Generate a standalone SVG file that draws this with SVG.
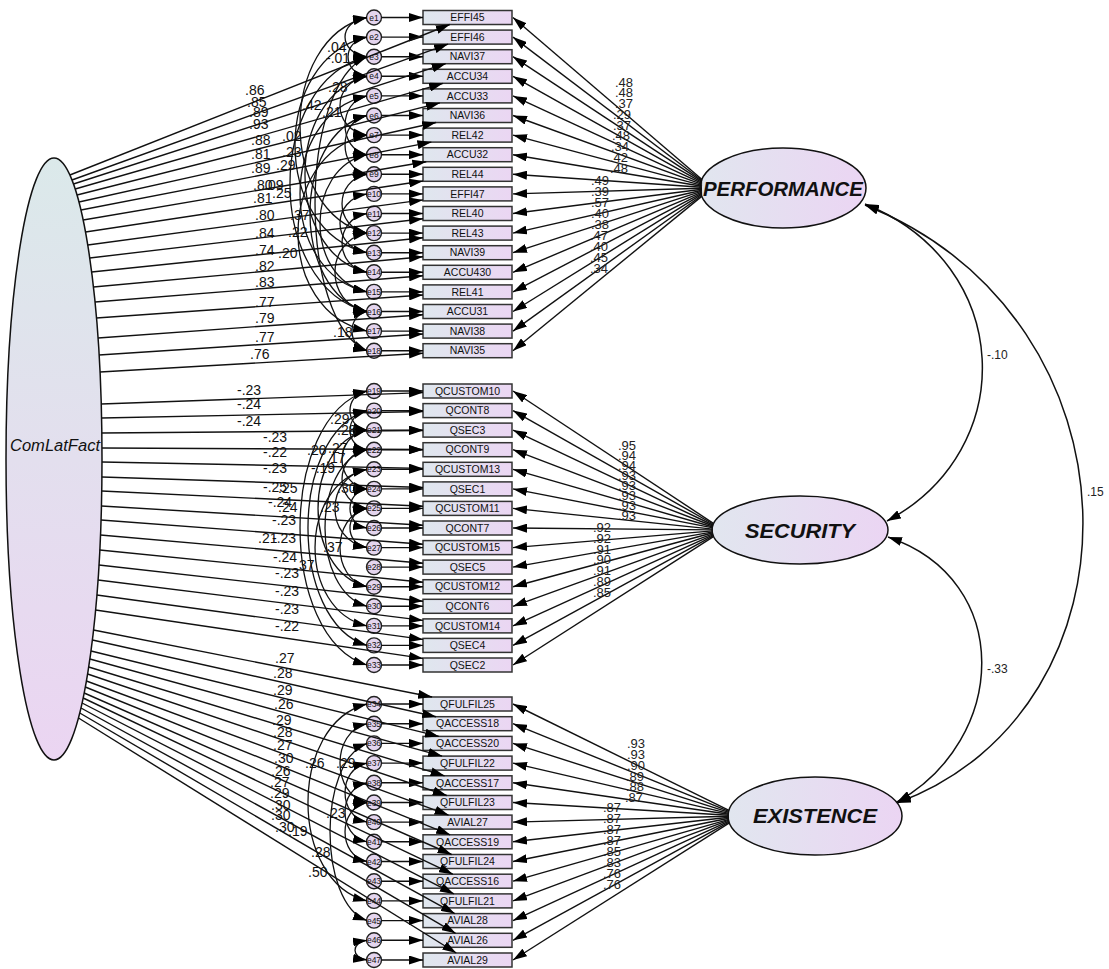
<svg xmlns="http://www.w3.org/2000/svg" width="1109" height="969" viewBox="0 0 1109 969">
<defs>
<linearGradient id="gb" x1="0" y1="0" x2="1" y2="0"><stop offset="0" stop-color="#dfe7ee"/><stop offset="1" stop-color="#ebd6f3"/></linearGradient>
<linearGradient id="gv" x1="0" y1="0" x2="0" y2="1"><stop offset="0" stop-color="#dbe9ea"/><stop offset="1" stop-color="#ebd5f2"/></linearGradient>
<linearGradient id="gh" x1="0" y1="0" x2="1" y2="0"><stop offset="0" stop-color="#e1e6ef"/><stop offset="1" stop-color="#ebd5f3"/></linearGradient>
<marker id="ah" viewBox="0 0 14 9" refX="14" refY="4.5" markerWidth="14" markerHeight="9" markerUnits="userSpaceOnUse" orient="auto-start-reverse"><path d="M0,0L14,4.5L0,9z" fill="#000"/></marker>
<style>
.ln{stroke:#111;stroke-width:1.4;fill:none;marker-end:url(#ah)}
.cv{stroke:#111;stroke-width:1.3;fill:none;marker-start:url(#ah);marker-end:url(#ah)}
.bx{fill:url(#gb);stroke:#333;stroke-width:1.5}
.bt{font-family:"Liberation Sans",Arial,sans-serif;font-size:10.5px;text-anchor:middle;fill:#111}
.ec{fill:#e4d5ee;stroke:#222;stroke-width:1.4}
.et{font-family:"Liberation Sans",Arial,sans-serif;font-size:8.5px;text-anchor:middle;fill:#111}
.lv{stroke:#111;stroke-width:1.5}
.lt{font-family:"Liberation Sans",Arial,sans-serif;font-weight:bold;font-style:italic;font-size:20px;text-anchor:middle;fill:#111}
.l14{font-family:"Liberation Sans",Arial,sans-serif;font-size:14px;fill:#111}
.l13{font-family:"Liberation Sans",Arial,sans-serif;font-size:13px;fill:#222}
.l12{font-family:"Liberation Sans",Arial,sans-serif;font-size:12px;fill:#222}
</style>
</defs>
<rect width="1109" height="969" fill="#fff"/>

<!-- latent nodes -->
<g id="ComLatFact"><ellipse cx="54" cy="459" rx="48" ry="301" fill="url(#gv)" class="lv"/><text x="10" y="451" font-family="Liberation Sans, Arial, sans-serif" font-style="italic" font-size="16" textLength="90" lengthAdjust="spacingAndGlyphs" fill="#111">ComLatFact</text></g>
<g id="PERFORMANCE"><ellipse cx="783" cy="188" rx="83" ry="40" fill="url(#gh)" class="lv"/><text class="lt" x="783" y="196" textLength="160" lengthAdjust="spacingAndGlyphs">PERFORMANCE</text></g>
<g id="SECURITY"><ellipse cx="800" cy="530" rx="88" ry="34" fill="url(#gh)" class="lv"/><text class="lt" x="800" y="537.5" textLength="110" lengthAdjust="spacingAndGlyphs">SECURITY</text></g>
<g id="EXISTENCE"><ellipse cx="815" cy="816" rx="87" ry="39" fill="url(#gh)" class="lv"/><text class="lt" x="815" y="823" textLength="124" lengthAdjust="spacingAndGlyphs">EXISTENCE</text></g>

<!-- observed boxes -->
<g id="EFFI45" transform="translate(0,17.5)"><rect class="bx" x="423" y="-7" width="89" height="14"/><text class="bt" x="467.5" y="3.7">EFFI45</text></g>
<g id="EFFI46" transform="translate(0,37.1)"><rect class="bx" x="423" y="-7" width="89" height="14"/><text class="bt" x="467.5" y="3.7">EFFI46</text></g>
<g id="NAVI37" transform="translate(0,56.7)"><rect class="bx" x="423" y="-7" width="89" height="14"/><text class="bt" x="467.5" y="3.7">NAVI37</text></g>
<g id="ACCU34" transform="translate(0,76.3)"><rect class="bx" x="423" y="-7" width="89" height="14"/><text class="bt" x="467.5" y="3.7">ACCU34</text></g>
<g id="ACCU33" transform="translate(0,95.9)"><rect class="bx" x="423" y="-7" width="89" height="14"/><text class="bt" x="467.5" y="3.7">ACCU33</text></g>
<g id="NAVI36" transform="translate(0,115.5)"><rect class="bx" x="423" y="-7" width="89" height="14"/><text class="bt" x="467.5" y="3.7">NAVI36</text></g>
<g id="REL42" transform="translate(0,135.1)"><rect class="bx" x="423" y="-7" width="89" height="14"/><text class="bt" x="467.5" y="3.7">REL42</text></g>
<g id="ACCU32" transform="translate(0,154.7)"><rect class="bx" x="423" y="-7" width="89" height="14"/><text class="bt" x="467.5" y="3.7">ACCU32</text></g>
<g id="REL44" transform="translate(0,174.3)"><rect class="bx" x="423" y="-7" width="89" height="14"/><text class="bt" x="467.5" y="3.7">REL44</text></g>
<g id="EFFI47" transform="translate(0,193.9)"><rect class="bx" x="423" y="-7" width="89" height="14"/><text class="bt" x="467.5" y="3.7">EFFI47</text></g>
<g id="REL40" transform="translate(0,213.5)"><rect class="bx" x="423" y="-7" width="89" height="14"/><text class="bt" x="467.5" y="3.7">REL40</text></g>
<g id="REL43" transform="translate(0,233.1)"><rect class="bx" x="423" y="-7" width="89" height="14"/><text class="bt" x="467.5" y="3.7">REL43</text></g>
<g id="NAVI39" transform="translate(0,252.7)"><rect class="bx" x="423" y="-7" width="89" height="14"/><text class="bt" x="467.5" y="3.7">NAVI39</text></g>
<g id="ACCU430" transform="translate(0,272.3)"><rect class="bx" x="423" y="-7" width="89" height="14"/><text class="bt" x="467.5" y="3.7">ACCU430</text></g>
<g id="REL41" transform="translate(0,291.9)"><rect class="bx" x="423" y="-7" width="89" height="14"/><text class="bt" x="467.5" y="3.7">REL41</text></g>
<g id="ACCU31" transform="translate(0,311.5)"><rect class="bx" x="423" y="-7" width="89" height="14"/><text class="bt" x="467.5" y="3.7">ACCU31</text></g>
<g id="NAVI38" transform="translate(0,331.1)"><rect class="bx" x="423" y="-7" width="89" height="14"/><text class="bt" x="467.5" y="3.7">NAVI38</text></g>
<g id="NAVI35" transform="translate(0,350.7)"><rect class="bx" x="423" y="-7" width="89" height="14"/><text class="bt" x="467.5" y="3.7">NAVI35</text></g>

<g id="QCUSTOM10" transform="translate(0,391)"><rect class="bx" x="423" y="-7" width="89" height="14"/><text class="bt" x="467.5" y="3.7">QCUSTOM10</text></g>
<g id="QCONT8" transform="translate(0,410.6)"><rect class="bx" x="423" y="-7" width="89" height="14"/><text class="bt" x="467.5" y="3.7">QCONT8</text></g>
<g id="QSEC3" transform="translate(0,430.1)"><rect class="bx" x="423" y="-7" width="89" height="14"/><text class="bt" x="467.5" y="3.7">QSEC3</text></g>
<g id="QCONT9" transform="translate(0,449.7)"><rect class="bx" x="423" y="-7" width="89" height="14"/><text class="bt" x="467.5" y="3.7">QCONT9</text></g>
<g id="QCUSTOM13" transform="translate(0,469.3)"><rect class="bx" x="423" y="-7" width="89" height="14"/><text class="bt" x="467.5" y="3.7">QCUSTOM13</text></g>
<g id="QSEC1" transform="translate(0,488.9)"><rect class="bx" x="423" y="-7" width="89" height="14"/><text class="bt" x="467.5" y="3.7">QSEC1</text></g>
<g id="QCUSTOM11" transform="translate(0,508.4)"><rect class="bx" x="423" y="-7" width="89" height="14"/><text class="bt" x="467.5" y="3.7">QCUSTOM11</text></g>
<g id="QCONT7" transform="translate(0,528)"><rect class="bx" x="423" y="-7" width="89" height="14"/><text class="bt" x="467.5" y="3.7">QCONT7</text></g>
<g id="QCUSTOM15" transform="translate(0,547.6)"><rect class="bx" x="423" y="-7" width="89" height="14"/><text class="bt" x="467.5" y="3.7">QCUSTOM15</text></g>
<g id="QSEC5" transform="translate(0,567.1)"><rect class="bx" x="423" y="-7" width="89" height="14"/><text class="bt" x="467.5" y="3.7">QSEC5</text></g>
<g id="QCUSTOM12" transform="translate(0,586.7)"><rect class="bx" x="423" y="-7" width="89" height="14"/><text class="bt" x="467.5" y="3.7">QCUSTOM12</text></g>
<g id="QCONT6" transform="translate(0,606.3)"><rect class="bx" x="423" y="-7" width="89" height="14"/><text class="bt" x="467.5" y="3.7">QCONT6</text></g>
<g id="QCUSTOM14" transform="translate(0,625.9)"><rect class="bx" x="423" y="-7" width="89" height="14"/><text class="bt" x="467.5" y="3.7">QCUSTOM14</text></g>
<g id="QSEC4" transform="translate(0,645.4)"><rect class="bx" x="423" y="-7" width="89" height="14"/><text class="bt" x="467.5" y="3.7">QSEC4</text></g>
<g id="QSEC2" transform="translate(0,665)"><rect class="bx" x="423" y="-7" width="89" height="14"/><text class="bt" x="467.5" y="3.7">QSEC2</text></g>

<g id="QFULFIL25" transform="translate(0,704)"><rect class="bx" x="423" y="-7" width="89" height="14"/><text class="bt" x="467.5" y="3.7">QFULFIL25</text></g>
<g id="QACCESS18" transform="translate(0,723.7)"><rect class="bx" x="423" y="-7" width="89" height="14"/><text class="bt" x="467.5" y="3.7">QACCESS18</text></g>
<g id="QACCESS20" transform="translate(0,743.4)"><rect class="bx" x="423" y="-7" width="89" height="14"/><text class="bt" x="467.5" y="3.7">QACCESS20</text></g>
<g id="QFULFIL22" transform="translate(0,763.1)"><rect class="bx" x="423" y="-7" width="89" height="14"/><text class="bt" x="467.5" y="3.7">QFULFIL22</text></g>
<g id="QACCESS17" transform="translate(0,782.8)"><rect class="bx" x="423" y="-7" width="89" height="14"/><text class="bt" x="467.5" y="3.7">QACCESS17</text></g>
<g id="QFULFIL23" transform="translate(0,802.5)"><rect class="bx" x="423" y="-7" width="89" height="14"/><text class="bt" x="467.5" y="3.7">QFULFIL23</text></g>
<g id="AVIAL27" transform="translate(0,822.1)"><rect class="bx" x="423" y="-7" width="89" height="14"/><text class="bt" x="467.5" y="3.7">AVIAL27</text></g>
<g id="QACCESS19" transform="translate(0,841.8)"><rect class="bx" x="423" y="-7" width="89" height="14"/><text class="bt" x="467.5" y="3.7">QACCESS19</text></g>
<g id="QFULFIL24" transform="translate(0,861.5)"><rect class="bx" x="423" y="-7" width="89" height="14"/><text class="bt" x="467.5" y="3.7">QFULFIL24</text></g>
<g id="QACCESS16" transform="translate(0,881.2)"><rect class="bx" x="423" y="-7" width="89" height="14"/><text class="bt" x="467.5" y="3.7">QACCESS16</text></g>
<g id="QFULFIL21" transform="translate(0,900.9)"><rect class="bx" x="423" y="-7" width="89" height="14"/><text class="bt" x="467.5" y="3.7">QFULFIL21</text></g>
<g id="AVIAL28" transform="translate(0,920.6)"><rect class="bx" x="423" y="-7" width="89" height="14"/><text class="bt" x="467.5" y="3.7">AVIAL28</text></g>
<g id="AVIAL26" transform="translate(0,940.3)"><rect class="bx" x="423" y="-7" width="89" height="14"/><text class="bt" x="467.5" y="3.7">AVIAL26</text></g>
<g id="AVIAL29" transform="translate(0,960)"><rect class="bx" x="423" y="-7" width="89" height="14"/><text class="bt" x="467.5" y="3.7">AVIAL29</text></g>

<!-- error terms -->
<g id="e1" transform="translate(374,17.5)"><circle class="ec" r="7.5"/><text class="et" y="3">e1</text></g>
<g id="e2" transform="translate(374,37.1)"><circle class="ec" r="7.5"/><text class="et" y="3">e2</text></g>
<g id="e3" transform="translate(374,56.7)"><circle class="ec" r="7.5"/><text class="et" y="3">e3</text></g>
<g id="e4" transform="translate(374,76.3)"><circle class="ec" r="7.5"/><text class="et" y="3">e4</text></g>
<g id="e5" transform="translate(374,95.9)"><circle class="ec" r="7.5"/><text class="et" y="3">e5</text></g>
<g id="e6" transform="translate(374,115.5)"><circle class="ec" r="7.5"/><text class="et" y="3">e6</text></g>
<g id="e7" transform="translate(374,135.1)"><circle class="ec" r="7.5"/><text class="et" y="3">e7</text></g>
<g id="e8" transform="translate(374,154.7)"><circle class="ec" r="7.5"/><text class="et" y="3">e8</text></g>
<g id="e9" transform="translate(374,174.3)"><circle class="ec" r="7.5"/><text class="et" y="3">e9</text></g>
<g id="e10" transform="translate(374,193.9)"><circle class="ec" r="7.5"/><text class="et" y="3">e10</text></g>
<g id="e11" transform="translate(374,213.5)"><circle class="ec" r="7.5"/><text class="et" y="3">e11</text></g>
<g id="e12" transform="translate(374,233.1)"><circle class="ec" r="7.5"/><text class="et" y="3">e12</text></g>
<g id="e13" transform="translate(374,252.7)"><circle class="ec" r="7.5"/><text class="et" y="3">e13</text></g>
<g id="e14" transform="translate(374,272.3)"><circle class="ec" r="7.5"/><text class="et" y="3">e14</text></g>
<g id="e15" transform="translate(374,291.9)"><circle class="ec" r="7.5"/><text class="et" y="3">e15</text></g>
<g id="e16" transform="translate(374,311.5)"><circle class="ec" r="7.5"/><text class="et" y="3">e16</text></g>
<g id="e17" transform="translate(374,331.1)"><circle class="ec" r="7.5"/><text class="et" y="3">e17</text></g>
<g id="e18" transform="translate(374,350.7)"><circle class="ec" r="7.5"/><text class="et" y="3">e18</text></g>
<g id="e19" transform="translate(374,391)"><circle class="ec" r="7.5"/><text class="et" y="3">e19</text></g>
<g id="e20" transform="translate(374,410.6)"><circle class="ec" r="7.5"/><text class="et" y="3">e20</text></g>
<g id="e21" transform="translate(374,430.1)"><circle class="ec" r="7.5"/><text class="et" y="3">e21</text></g>
<g id="e22" transform="translate(374,449.7)"><circle class="ec" r="7.5"/><text class="et" y="3">e22</text></g>
<g id="e23" transform="translate(374,469.3)"><circle class="ec" r="7.5"/><text class="et" y="3">e23</text></g>
<g id="e24" transform="translate(374,488.9)"><circle class="ec" r="7.5"/><text class="et" y="3">e24</text></g>
<g id="e25" transform="translate(374,508.4)"><circle class="ec" r="7.5"/><text class="et" y="3">e25</text></g>
<g id="e26" transform="translate(374,528)"><circle class="ec" r="7.5"/><text class="et" y="3">e26</text></g>
<g id="e27" transform="translate(374,547.6)"><circle class="ec" r="7.5"/><text class="et" y="3">e27</text></g>
<g id="e28" transform="translate(374,567.1)"><circle class="ec" r="7.5"/><text class="et" y="3">e28</text></g>
<g id="e29" transform="translate(374,586.7)"><circle class="ec" r="7.5"/><text class="et" y="3">e29</text></g>
<g id="e30" transform="translate(374,606.3)"><circle class="ec" r="7.5"/><text class="et" y="3">e30</text></g>
<g id="e31" transform="translate(374,625.9)"><circle class="ec" r="7.5"/><text class="et" y="3">e31</text></g>
<g id="e32" transform="translate(374,645.4)"><circle class="ec" r="7.5"/><text class="et" y="3">e32</text></g>
<g id="e33" transform="translate(374,665)"><circle class="ec" r="7.5"/><text class="et" y="3">e33</text></g>
<g id="e34" transform="translate(374,704)"><circle class="ec" r="7.5"/><text class="et" y="3">e34</text></g>
<g id="e35" transform="translate(374,723.7)"><circle class="ec" r="7.5"/><text class="et" y="3">e35</text></g>
<g id="e36" transform="translate(374,743.4)"><circle class="ec" r="7.5"/><text class="et" y="3">e36</text></g>
<g id="e37" transform="translate(374,763.1)"><circle class="ec" r="7.5"/><text class="et" y="3">e37</text></g>
<g id="e38" transform="translate(374,782.8)"><circle class="ec" r="7.5"/><text class="et" y="3">e38</text></g>
<g id="e39" transform="translate(374,802.5)"><circle class="ec" r="7.5"/><text class="et" y="3">e39</text></g>
<g id="e40" transform="translate(374,822.1)"><circle class="ec" r="7.5"/><text class="et" y="3">e40</text></g>
<g id="e41" transform="translate(374,841.8)"><circle class="ec" r="7.5"/><text class="et" y="3">e41</text></g>
<g id="e42" transform="translate(374,861.5)"><circle class="ec" r="7.5"/><text class="et" y="3">e42</text></g>
<g id="e43" transform="translate(374,881.2)"><circle class="ec" r="7.5"/><text class="et" y="3">e43</text></g>
<g id="e44" transform="translate(374,900.9)"><circle class="ec" r="7.5"/><text class="et" y="3">e44</text></g>
<g id="e45" transform="translate(374,920.6)"><circle class="ec" r="7.5"/><text class="et" y="3">e45</text></g>
<g id="e46" transform="translate(374,940.3)"><circle class="ec" r="7.5"/><text class="et" y="3">e46</text></g>
<g id="e47" transform="translate(374,960)"><circle class="ec" r="7.5"/><text class="et" y="3">e47</text></g>

<g id="connectors">
<!-- error to indicator -->
<g class="ln">
<path d="M381.5,17.5H423"/><path d="M381.5,37.1H423"/><path d="M381.5,56.7H423"/><path d="M381.5,76.3H423"/><path d="M381.5,95.9H423"/><path d="M381.5,115.5H423"/><path d="M381.5,135.1H423"/><path d="M381.5,154.7H423"/><path d="M381.5,174.3H423"/><path d="M381.5,193.9H423"/><path d="M381.5,213.5H423"/><path d="M381.5,233.1H423"/><path d="M381.5,252.7H423"/><path d="M381.5,272.3H423"/><path d="M381.5,291.9H423"/><path d="M381.5,311.5H423"/><path d="M381.5,331.1H423"/><path d="M381.5,350.7H423"/>
<path d="M381.5,391H423"/><path d="M381.5,410.6H423"/><path d="M381.5,430.1H423"/><path d="M381.5,449.7H423"/><path d="M381.5,469.3H423"/><path d="M381.5,488.9H423"/><path d="M381.5,508.4H423"/><path d="M381.5,528H423"/><path d="M381.5,547.6H423"/><path d="M381.5,567.1H423"/><path d="M381.5,586.7H423"/><path d="M381.5,606.3H423"/><path d="M381.5,625.9H423"/><path d="M381.5,645.4H423"/><path d="M381.5,665H423"/>
<path d="M381.5,704H423"/><path d="M381.5,723.7H423"/><path d="M381.5,743.4H423"/><path d="M381.5,763.1H423"/><path d="M381.5,782.8H423"/><path d="M381.5,802.5H423"/><path d="M381.5,822.1H423"/><path d="M381.5,841.8H423"/><path d="M381.5,861.5H423"/><path d="M381.5,881.2H423"/><path d="M381.5,900.9H423"/><path d="M381.5,920.6H423"/><path d="M381.5,940.3H423"/><path d="M381.5,960H423"/>
</g>
<!-- PERFORMANCE loadings -->
<g class="ln">
<path d="M702,179.5L513,17.5"/><path d="M702,180.5L513,37.1"/><path d="M702,181.4L513,56.7"/><path d="M702,182.4L513,76.3"/><path d="M702,183.4L513,95.9"/><path d="M702,184.4L513,115.5"/><path d="M702,185.4L513,135.1"/><path d="M702,186.3L513,154.7"/><path d="M702,187.3L513,174.3"/><path d="M702,188.3L513,193.9"/><path d="M702,189.3L513,213.5"/><path d="M702,190.3L513,233.1"/><path d="M702,191.2L513,252.7"/><path d="M702,192.2L513,272.3"/><path d="M702,193.2L513,291.9"/><path d="M702,194.2L513,311.5"/><path d="M702,195.2L513,331.1"/><path d="M702,196.1L513,350.7"/>
</g>
<!-- SECURITY loadings -->
<g class="ln">
<path d="M713,523.1L513,391"/><path d="M713,524L513,410.6"/><path d="M713,525L513,430.1"/><path d="M713,526L513,449.7"/><path d="M713,527L513,469.3"/><path d="M713,527.9L513,488.9"/><path d="M713,529.1L513,508.4"/><path d="M713,529.9L513,528"/><path d="M713,530.9L513,547.6"/><path d="M713,531.9L513,567.1"/><path d="M713,532.8L513,586.7"/><path d="M713,533.8L513,606.3"/><path d="M713,534.8L513,625.9"/><path d="M713,535.8L513,645.4"/><path d="M713,536.8L513,665"/>
</g>
<!-- EXISTENCE loadings -->
<g class="ln">
<path d="M729,810.4L513,704"/><path d="M729,811.4L513,723.7"/><path d="M729,812.4L513,743.4"/><path d="M729,813.4L513,763.1"/><path d="M729,814.3L513,782.8"/><path d="M729,815.3L513,802.5"/><path d="M729,816.3L513,822.1"/><path d="M729,817.3L513,841.8"/><path d="M729,818.3L513,861.5"/><path d="M729,819.3L513,881.2"/><path d="M729,820.2L513,900.9"/><path d="M729,821.2L513,920.6"/><path d="M729,822.2L513,940.3"/><path d="M729,823.2L513,960"/>
</g>
<!-- ComLatFact loadings -->
<g class="ln">
<path d="M69.9,175L449.8,24.5"/><path d="M72,180L448.1,44.1"/><path d="M73.5,184L445.8,63.7"/><path d="M75.2,189L443.1,83.3"/><path d="M77.1,195L439.9,102.9"/><path d="M79,202L436.1,122.5"/><path d="M81,210L431.4,142.1"/><path d="M83.2,220L426.3,161.7"/><path d="M85.5,232L423,181"/><path d="M87.8,245L423,199.9"/><path d="M89.7,258L423,218.7"/><path d="M91.6,272L423,237.7"/><path d="M93.4,287L423,256.8"/><path d="M95,302L423,275.8"/><path d="M96.4,318L423,295"/><path d="M98,338L423,314.7"/><path d="M99,355L423,334"/><path d="M100,372L423,353.3"/>
<path d="M101.2,404L423,392.6"/><path d="M101.6,418L423,411.5"/><path d="M101.8,433L423,430.5"/><path d="M102,448L423,449.5"/><path d="M102,462L423,468.4"/><path d="M101.9,477L423,487.5"/><path d="M101.7,491L423,506.3"/><path d="M101.4,506L423,525.3"/><path d="M101,520L423,544.2"/><path d="M100.4,535L423,563.2"/><path d="M99.7,550L423,582.3"/><path d="M98.9,565L423,601.3"/><path d="M98,580L423,620.4"/><path d="M96.8,595L423,639.4"/><path d="M95.5,610L423,658.4"/>
<path d="M93.5,630L432.1,697"/><path d="M92.4,640L436.1,716.7"/><path d="M91,651L439,736.4"/><path d="M89.9,659L442.1,756.1"/><path d="M88.7,667L444.6,775.8"/><path d="M87.6,674L446.8,795.5"/><path d="M86.4,681L448.6,815.1"/><path d="M85.3,687L450.2,834.8"/><path d="M84.2,693L451.6,854.5"/><path d="M83.2,698L452.8,874.2"/><path d="M82.1,703L453.9,893.9"/><path d="M81,708L454.8,913.6"/><path d="M79.8,713L455.6,933.3"/><path d="M78.5,718L456.3,953"/>
</g>
<!-- error covariances -->
<g class="cv">
<path d="M367,17.5C277.7,39.1 277.7,211.5 367,233.1"/>
<path d="M367,17.5C337.7,21.4 337.7,52.8 367,56.7"/>
<path d="M367,37.1C271,58.7 271,231.1 367,252.7"/>
<path d="M367,37.1C341.7,41 341.7,72.4 367,76.3"/>
<path d="M367,56.7C264.3,82.2 264.3,286 367,311.5"/>
<path d="M367,76.3C331,82.2 331,129.2 367,135.1"/>
<path d="M367,76.3C284.3,95.9 284.3,252.7 367,272.3"/>
<path d="M367,95.9C337.7,101.8 337.7,148.8 367,154.7"/>
<path d="M367,56.7C297.7,86.1 297.7,321.3 367,350.7"/>
<path d="M367,95.9C277.7,115.5 277.7,272.3 367,291.9"/>
<path d="M367,115.5C291,135.1 291,291.9 367,311.5"/>
<path d="M367,115.5C337.7,121.4 337.7,168.4 367,174.3"/>
<path d="M367,135.1C275,154.7 275,311.5 367,331.1"/>
<path d="M367,154.7C304.3,168.4 304.3,278.2 367,291.9"/>
<path d="M367,174.3C333.7,180.2 333.7,227.2 367,233.1"/>
<path d="M367,193.9C331,199.8 331,246.8 367,252.7"/>
<path d="M367,213.5C333.7,219.4 333.7,266.4 367,272.3"/>
<path d="M367,233.1C324.3,240.9 324.3,303.7 367,311.5"/>
<path d="M367,311.5C347,315.4 347,346.8 367,350.7"/>

<path d="M367,391C277.7,418.4 277.7,637.6 367,665"/>
<path d="M367,410.6C288.3,434.1 288.3,621.9 367,645.4"/>
<path d="M367,391C344.3,394.9 344.3,426.2 367,430.1"/>
<path d="M367,410.6C344.3,414.5 344.3,445.8 367,449.7"/>
<path d="M367,430.1C301.7,445.8 301.7,571 367,586.7"/>
<path d="M367,430.1C333.7,436 333.7,483 367,488.9"/>
<path d="M367,449.7C333.7,455.6 333.7,502.5 367,508.4"/>
<path d="M367,449.7C311,465.4 311,590.6 367,606.3"/>
<path d="M367,469.3C324.3,477.1 324.3,539.8 367,547.6"/>
<path d="M367,488.9C344.3,492.8 344.3,524.1 367,528"/>
<path d="M367,469.3C297.7,485 297.7,610.2 367,625.9"/>
<path d="M367,508.4C331,516.2 331,578.9 367,586.7"/>
<path d="M367,508.4C344.3,512.3 344.3,543.7 367,547.6"/>

<path d="M367,704C288.3,723.7 288.3,881.2 367,900.9"/>
<path d="M367,743.4C317.7,761.1 317.7,902.9 367,920.6"/>
<path d="M367,763.1C337.7,769 337.7,816.2 367,822.1"/>
<path d="M367,782.8C337.7,788.7 337.7,835.9 367,841.8"/>
<path d="M367,723.7C331,731.6 331,794.6 367,802.5"/>
<path d="M367,802.5C337.7,808.4 337.7,855.6 367,861.5"/>
<path d="M367,940.3C351,942.3 351,958 367,960"/>
</g>
<!-- latent covariances -->
<g class="cv" style="stroke-width:1.5">
<path d="M865,204C1015,265 1020,450 887,521"/>
<path d="M865,205C1150,320 1150,710 897,803"/>
<path d="M888,537C1015,580 1008,740 897,802"/>
</g>
</g>

<g id="labels">
<g class="l14">
<text x="245" y="95">.86</text><text x="247" y="107">.85</text><text x="249" y="117">.89</text><text x="249" y="129">.93</text><text x="251" y="145">.88</text><text x="251" y="159">.81</text><text x="251" y="173">.89</text><text x="253" y="190">.80</text><text x="253" y="203">.81</text><text x="255" y="220">.80</text><text x="255" y="238">.84</text><text x="255" y="255">.74</text><text x="255" y="271">.82</text><text x="255" y="287">.83</text><text x="255" y="307">.77</text><text x="255" y="323">.79</text><text x="255" y="342">.77</text><text x="250" y="359">.76</text>
<text x="237" y="395">-.23</text><text x="237" y="409">-.24</text><text x="237" y="426">-.24</text><text x="263" y="442">-.23</text><text x="263" y="457">-.22</text><text x="263" y="473">-.23</text><text x="263" y="492">-.25</text><text x="268" y="507">-.24</text><text x="272" y="525">-.23</text><text x="272" y="543">-.23</text><text x="273" y="562">-.24</text><text x="275" y="578">-.23</text><text x="275" y="596">-.23</text><text x="275" y="614">-.23</text><text x="275" y="631">-.22</text>
<text x="275" y="663">.27</text><text x="273" y="678">.28</text><text x="273" y="695">.29</text><text x="274" y="709">.26</text><text x="272" y="725">.29</text><text x="273" y="737">.28</text><text x="273" y="750">.27</text><text x="274" y="763">.30</text><text x="271" y="776">.26</text><text x="270" y="787">.27</text><text x="270" y="798">.29</text><text x="271" y="810">.30</text><text x="271" y="820">.30</text><text x="275" y="832">.30</text>
</g>
<g class="l13">
<text x="615" y="87">.48</text><text x="615" y="97">.48</text><text x="615" y="108">.37</text><text x="613" y="119">.29</text><text x="613" y="130">.37</text><text x="612" y="140">.48</text><text x="611" y="151">.34</text><text x="610" y="162">.42</text><text x="610" y="173">.48</text>
<text x="591" y="185">.49</text><text x="591" y="196">.39</text><text x="591" y="207">.57</text><text x="591" y="218">.40</text><text x="591" y="229">.38</text><text x="590" y="240">.47</text><text x="590" y="251">.40</text><text x="590" y="262">.45</text><text x="590" y="273">.34</text>
<text x="618" y="450">.95</text><text x="618" y="460">.94</text><text x="618" y="470">.94</text><text x="618" y="480">.93</text><text x="618" y="490">.93</text><text x="618" y="500">.93</text><text x="618" y="510">.93</text><text x="618" y="520">.93</text>
<text x="593" y="532">.92</text><text x="593" y="543">.92</text><text x="593" y="554">.91</text><text x="593" y="564">.90</text><text x="593" y="575">.91</text><text x="593" y="586">.89</text><text x="593" y="597">.85</text>
<text x="627" y="748">.93</text><text x="627" y="759">.93</text><text x="627" y="770">.90</text><text x="626" y="781">.89</text><text x="626" y="791">.88</text><text x="625" y="802">.87</text>
<text x="603" y="812">.87</text><text x="603" y="823">.87</text><text x="603" y="834">.87</text><text x="603" y="845">.87</text><text x="603" y="856">.85</text><text x="603" y="867">.83</text><text x="603" y="878">.76</text><text x="603" y="889">.76</text>
</g>
<g class="l14">
<text x="327" y="52">.04</text><text x="326" y="63">-.01</text><text x="328" y="92">.28</text><text x="302" y="110">.42</text><text x="322" y="117">.21</text><text x="282" y="141">.02</text><text x="282" y="157">.23</text><text x="276" y="170">.29</text><text x="264" y="190">.09</text><text x="272" y="198">.25</text><text x="290" y="220">.37</text><text x="288" y="237">.22</text><text x="278" y="258">.20</text><text x="333" y="337">.18</text>
<text x="330" y="424">.29</text><text x="337" y="435">.28</text><text x="307" y="455">.20</text><text x="328" y="453">.27</text><text x="326" y="463">.17</text><text x="311" y="473">-.19</text><text x="278" y="493">.25</text><text x="337" y="493">.30</text><text x="278" y="512">.24</text><text x="320" y="512">.23</text><text x="258" y="543">.21</text><text x="323" y="552">.37</text><text x="295" y="570">.37</text>
<text x="305" y="768">.26</text><text x="336" y="768">.29</text><text x="326" y="818">.23</text><text x="288" y="836">.19</text><text x="311" y="857">.28</text><text x="308" y="877">.50</text>
</g>
<g class="l12">
<text x="987" y="359">-.10</text><text x="1087" y="496">.15</text><text x="987" y="673">-.33</text>
</g>
</g>
</svg>
